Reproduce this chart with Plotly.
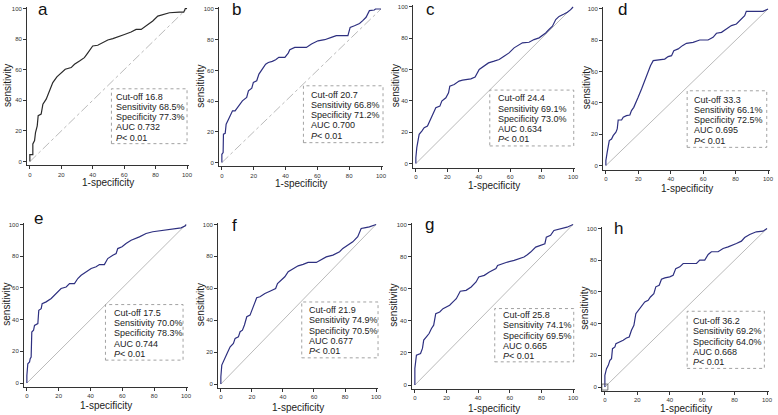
import plotly.graph_objects as go

W, H = 778, 415
FONT = "Liberation Sans, Arial, sans-serif"

panels = ['a', 'b', 'c', 'd', 'e', 'f', 'g', 'h']

# ROC curve points (1-specificity %, sensitivity %)
fpr_a = [0, 0, 1.9, 1.9, 3, 3.6, 4.7, 5.3, 7.2, 8.3, 10.4, 12.5, 14.6, 17.2, 19.9, 22.5, 26.3, 28.4, 31.6, 34.7, 36.9, 40, 43.2, 46.4, 49.6, 52.8, 57, 60.2, 64.4, 67.6, 70.8, 73.9, 78.2, 81.4, 84.5, 88.8, 95.1, 97.9, 98.9, 100]
tpr_a = [0, 4.6, 4.6, 11.5, 13.7, 19, 23.4, 30, 31, 37.5, 40.8, 46, 51.6, 55.3, 58, 60.3, 61.4, 63.6, 65.7, 67.9, 71, 75.5, 76, 77.7, 79.4, 80.3, 81.6, 83, 84.6, 86.3, 86.3, 88.5, 91.8, 95, 96, 97.2, 97.6, 97.6, 100, 100]

fpr_b = [0, 0, 0.8, 1, 2.1, 2.7, 4.2, 5.6, 6.7, 8.3, 10.4, 12.9, 15.6, 16.7, 18.8, 19.8, 21.9, 23.3, 25.4, 27.5, 29.2, 31.7, 33.8, 35.8, 39.6, 41.7, 42.7, 45.8, 53.1, 56.3, 60.4, 64.6, 68.8, 71.9, 79.2, 80.6, 83.3, 86.5, 88.5, 90.6, 92.7, 95.8, 96.5, 100]
tpr_b = [0, 5.4, 6.5, 18.5, 19, 25, 28.3, 31.5, 33.7, 33.7, 37, 40.2, 42.4, 46.7, 48.5, 52.2, 53.3, 57.6, 60.9, 64.1, 65.2, 65.9, 67, 68.5, 68.5, 71.3, 73.5, 75, 75, 77.2, 79.3, 80, 81.5, 82.6, 82.6, 88, 89.1, 90.6, 92.4, 94.6, 98.9, 99.3, 100, 100]

fpr_c = [0, 0, 0.6, 1.3, 2.1, 3.8, 5.3, 7.4, 8.9, 10.2, 11.7, 12.7, 15.3, 16.5, 19.1, 20.8, 21.6, 24.4, 27.5, 29.7, 35, 37.7, 40.3, 43.4, 46.2, 49.8, 53, 56.1, 59.3, 62.5, 65.7, 67.8, 72, 75.2, 78.4, 82.6, 84.7, 86.9, 89, 91.1, 94.3, 96.4, 98.5, 100]
tpr_c = [0, 3.8, 10.2, 13.4, 18.7, 20.8, 22.9, 24, 27.2, 30.4, 32.5, 35.7, 36.7, 39.9, 42, 45.2, 49.5, 50.5, 52.7, 53.3, 54.1, 55.2, 60.1, 62.2, 64.3, 65.4, 66.5, 68.6, 70.7, 73.9, 75.6, 77.1, 77.5, 79.2, 80.3, 83.4, 85.6, 87.7, 92, 94, 95.5, 96.6, 98.3, 100]

fpr_d = [0, 0, 0.8, 1.4, 2.1, 3.5, 4.5, 6.2, 7, 7.6, 9.7, 10.7, 12.7, 14.8, 15.8, 17.2, 18.5, 19.9, 22, 24, 25.5, 27.1, 27.5, 29.2, 34.3, 36.3, 38.4, 40.5, 41.9, 44.6, 47.2, 49.7, 53.8, 57.9, 63, 66.1, 68.2, 71.3, 74.3, 77.4, 80.5, 83.6, 85.6, 86.6, 96.9, 100]
tpr_d = [0, 3.2, 8.5, 11.7, 16, 17, 19.1, 21.3, 23.4, 29.1, 29.1, 30.9, 31.9, 32.3, 35.1, 37.2, 40, 43.6, 48.9, 54.3, 59.6, 62.8, 63.8, 67, 67.4, 68, 69.6, 70.2, 73.4, 74.5, 76.6, 78.1, 78.7, 80.2, 80.2, 81.9, 84.5, 85.1, 87.2, 89.4, 90.4, 93.6, 95.7, 98.5, 98.5, 100]

fpr_e = [0, 0, 0.6, 1.7, 2.1, 2.7, 3.1, 4.2, 4.8, 6.9, 7.5, 9, 9.6, 12.1, 15.3, 17.4, 19.5, 21.5, 24.7, 26.8, 29.9, 32, 34.1, 37.2, 40.4, 43.5, 45.6, 48.7, 50.8, 54, 56.1, 57.1, 59.8, 62.3, 65.5, 70.7, 74.9, 79.1, 85.4, 91.6, 96.9, 99.6, 100]
tpr_e = [0, 4.8, 12.2, 13.3, 15.4, 16.4, 32.2, 33.3, 36.4, 37.5, 45.9, 46.9, 50.1, 51.2, 53.3, 55.4, 57.5, 59.6, 60.6, 62.7, 62.7, 65.9, 68, 70.1, 72.2, 73.3, 74.7, 74.7, 78.5, 80.6, 81.7, 84.8, 85.9, 88, 90.1, 92.2, 94.3, 95.4, 96.4, 97.1, 97.9, 99.2, 100]

fpr_f = [0, 0, 0.6, 1.7, 2.8, 4.5, 6, 8.1, 9.2, 11.3, 12.4, 13.9, 15.2, 16.7, 18.8, 20.5, 23.1, 25.2, 28.4, 31.6, 35.3, 36.5, 38.7, 41.2, 43.4, 46.6, 49.8, 53, 56.2, 61.5, 64.7, 67.9, 72.2, 76.5, 78.6, 81.8, 85, 88.2, 90.4, 92.5, 95.7, 100]
tpr_f = [0, 4.6, 11.9, 14, 17.1, 20.3, 23.4, 25.5, 28.6, 29.6, 32.8, 33.8, 37, 42.2, 43.2, 47.4, 54.1, 54.7, 56.8, 58.2, 59.9, 63, 65.1, 67.2, 70.4, 72.4, 74.1, 75, 76.2, 76.2, 77.7, 79.7, 80.8, 82.9, 85, 87.1, 89.1, 92.3, 97.5, 97.9, 98.5, 100]

fpr_g = [0, 0, 1, 3.6, 4.8, 5.6, 7.3, 9, 10.5, 11.9, 13.2, 15.7, 17.8, 19.9, 22, 24.1, 26.2, 28.7, 32.4, 35.6, 38.7, 40.4, 43.9, 47.1, 51.3, 52.3, 55.4, 58.6, 62.8, 66, 69, 71.1, 73.2, 76.4, 79.5, 82.2, 83.1, 85.8, 87.9, 93.1, 96.2, 100]
tpr_g = [0, 10.4, 18.6, 19.7, 22.8, 28, 30, 32.1, 35.2, 37.3, 44.5, 45.5, 47.6, 48.7, 49.7, 51.8, 53.8, 58.4, 59, 61.1, 64.2, 67.3, 68.3, 70.4, 72.5, 74.5, 75.6, 76.6, 77.6, 78.7, 79.7, 81.2, 82.8, 85.9, 86.9, 88, 92.1, 93.2, 96.3, 97.3, 98.3, 100]

fpr_h = [0, 0, 1, 2.1, 3.1, 4.1, 4.7, 6.2, 6.8, 9.2, 11.3, 13.3, 15, 16.4, 17.9, 19.1, 21.6, 23.2, 24.6, 26.7, 28.1, 30.2, 31.4, 33.5, 34.9, 37, 40, 42.1, 43.7, 46.2, 48.3, 53.4, 56.5, 58.5, 61.6, 63.7, 65.7, 69.8, 72.9, 76, 79, 81.1, 84.2, 86.2, 89.3, 93.4, 97.5, 100]
tpr_h = [0, 7.4, 11.6, 13.7, 16.8, 17.9, 24.2, 25.3, 27.4, 28.4, 29.5, 30.9, 31.6, 35.8, 38.9, 46.3, 49.5, 51.6, 53.7, 54.7, 56.8, 58.9, 63.2, 64.2, 68, 68.8, 69.5, 70.5, 74.7, 75.8, 77.9, 77.9, 77.9, 80, 80, 83.6, 85.3, 85.3, 87.4, 88.4, 89.5, 90.5, 92, 94.3, 96.2, 97.9, 98.3, 100]

fprs = [fpr_a, fpr_b, fpr_c, fpr_d, fpr_e, fpr_f, fpr_g, fpr_h]
tprs = [tpr_a, tpr_b, tpr_c, tpr_d, tpr_e, tpr_f, tpr_g, tpr_h]

cutoff = ['16.8', '20.7', '24.4', '33.3', '17.5', '21.9', '25.8', '36.2']
sens = ['68.5', '66.8', '69.1', '66.1', '70.0', '74.9', '74.1', '69.2']
spec = ['77.3', '71.2', '73.0', '72.5', '78.3', '70.5', '69.5', '64.0']
auc = ['0.732', '0.700', '0.634', '0.695', '0.744', '0.677', '0.665', '0.668']

chance = [0, 100]
tickvals = [0, 20, 40, 60, 80, 100]

# layout geometry in pixels
geom = [
    dict(px0=30, px100=188, py0=161, py100=7.5, box=(112, 88, 188, 143), txt=(114.3, 96), let=(43, 9), xt=182, yt=5),
    dict(px0=223, px100=383, py0=162, py100=8, box=(305, 85, 385, 142), txt=(310.7, 94), let=(238, 8.3), xt=183, yt=200),
    dict(px0=418, px100=576, py0=163, py100=6, box=(492.3, 89.3, 576.7, 145.3), txt=(499, 97.7), let=(433, 8.5), xt=185, yt=395),
    dict(px0=609, px100=772, py0=165, py100=8, box=(690.7, 90, 770.7, 146.7), txt=(696, 99), let=(626, 8.3), xt=188, yt=587),
    dict(px0=27, px100=187, py0=383, py100=224, box=(106, 304.3, 184, 360), txt=(112.3, 312.7), let=(39, 218.3), xt=405, yt=5),
    dict(px0=222, px100=378, py0=384, py100=224, box=(303.3, 301.7, 380, 357.7), txt=(309, 310), let=(236, 225), xt=407, yt=199),
    dict(px0=417, px100=576, py0=385, py100=224, box=(497.3, 308.3, 576.7, 361.7), txt=(503.3, 315), let=(432, 224), xt=408, yt=394),
    dict(px0=608, px100=771, py0=387, py100=228, box=(690.7, 311, 768.3, 368.3), txt=(694.3, 321), let=(622, 228), xt=408, yt=586),
]

XR = [-1.8, 101]
YR = [-2.5, 101]

def px(x):
    return x / W

def py(y):
    return 1 - y / H

fig = go.Figure()
shapes = []
annotations = []
layout_axes = {}

for i, p in enumerate(panels):
    g = geom[i]
    n = '' if i == 0 else str(i + 1)
    ppx = (g['px100'] - g['px0']) / 100
    ppy = (g['py0'] - g['py100']) / 100
    left = g['px0'] + XR[0] * ppx
    right = g['px0'] + XR[1] * ppx
    bottom = g['py0'] - YR[0] * ppy
    top = g['py0'] - YR[1] * ppy
    axcommon = dict(showgrid=False, zeroline=False, showline=True, linecolor='#333', linewidth=1,
                    ticks='outside', ticklen=3, tickwidth=0.8, tickcolor='#333',
                    tickvals=tickvals, tickfont=dict(size=6, color='#333', family=FONT))
    layout_axes['xaxis' + n] = dict(domain=[px(left), px(right)], range=XR, anchor='y' + n, **axcommon)
    layout_axes['yaxis' + n] = dict(domain=[py(bottom), py(top)], range=YR, anchor='x' + n, **axcommon)

    diag_dash = 'dashdot' if i < 2 else 'solid'
    fig.add_trace(go.Scatter(x=chance, y=chance, mode='lines', xaxis='x' + n, yaxis='y' + n,
                             line=dict(color='#a8a8a8', width=0.8, dash=diag_dash), hoverinfo='skip',
                             showlegend=False))
    col = '#2a2a2a' if i == 0 else '#2e3080'
    fig.add_trace(go.Scatter(x=fprs[i], y=tprs[i], mode='lines', xaxis='x' + n, yaxis='y' + n,
                             line=dict(color=col, width=1.2), showlegend=False))

    bx0, by0, bx1, by1 = g['box']
    shapes.append(dict(type='rect', xref='paper', yref='paper', x0=px(bx0), x1=px(bx1), y0=py(by1), y1=py(by0),
                       line=dict(color='#8a8a8a', width=0.8, dash='dot'), fillcolor='white', layer='above'))
    lines = ['Cut-off ' + cutoff[i], 'Sensitivity ' + sens[i] + '%', 'Specificity ' + spec[i] + '%',
             'AUC ' + auc[i], '<i>P</i>< 0.01']
    tx, ty = g['txt']
    for k, t in enumerate(lines):
        annotations.append(dict(x=px(tx), y=py(ty + k * 10.25), xref='paper', yref='paper', text=t,
                                showarrow=False, xanchor='left', yanchor='middle',
                                font=dict(size=9, color='#222', family=FONT)))
    lx, ly = g['let']
    annotations.append(dict(x=px(lx), y=py(ly), xref='paper', yref='paper', text=p, showarrow=False,
                            xanchor='center', yanchor='middle', font=dict(size=17, color='#111', family=FONT)))
    annotations.append(dict(x=px((g['px0'] + g['px100']) / 2), y=py(g['xt']), xref='paper', yref='paper',
                            text='1-specificity', showarrow=False, xanchor='center', yanchor='middle',
                            font=dict(size=10, color='#222', family=FONT)))
    annotations.append(dict(x=px(g['yt'] + 2), y=py((g['py0'] + g['py100']) / 2), xref='paper', yref='paper',
                            text='sensitivity', showarrow=False, xanchor='center', yanchor='middle',
                            textangle=-90, font=dict(size=10, color='#222', family=FONT)))

# small origin marker in panel h
fig.add_trace(go.Scatter(x=chance[:1], y=chance[:1], mode='markers', xaxis='x8', yaxis='y8',
                         marker=dict(symbol='square-open', size=6, color='#555', line=dict(width=0.8)),
                         showlegend=False, hoverinfo='skip'))

fig.update_layout(width=W, height=H, margin=dict(l=0, r=0, t=0, b=0), paper_bgcolor='white',
                  plot_bgcolor='white', shapes=shapes, annotations=annotations, **layout_axes)

fig.write_html("out.html", config={'displayModeBar': False},
               post_script="document.body.style.margin='0px';document.body.style.overflow='hidden';")
